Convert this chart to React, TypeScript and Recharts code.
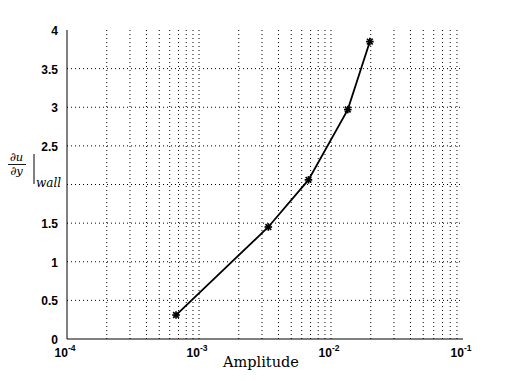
import {
  CartesianGrid,
  Line,
  LineChart,
  ReferenceLine,
  XAxis,
  YAxis,
} from "recharts";

// amplitude (log x) vs wall shear
const amplitude = [6.7e-4, 3.35e-3, 6.75e-3, 1.34e-2, 1.97e-2];
const wallShear = [0.31, 1.45, 2.06, 2.97, 3.85];

const xTicks = [1e-4, 1e-3, 1e-2, 1e-1];
const yTicks = [0, 0.5, 1, 1.5, 2, 2.5, 3, 3.5, 4];
const decades = [1e-4, 1e-3, 1e-2];
const minorSteps = [2, 3, 4, 5, 6, 7, 8, 9];

const data = amplitude.map((a, i) => ({ a, v: wallShear[i] }));
const minorX = decades.flatMap((d) => minorSteps.map((m) => d * m));

const TICK_FONT = "'Liberation Sans', Arial, sans-serif";
const SERIF = "'DejaVu Serif', 'Liberation Serif', serif";
const DOT = "1 3";

function XTick({ x, y, payload }: any) {
  const exp = Math.round(Math.log10(payload.value));
  return (
    <text x={x - 2} y={y + 16} textAnchor="middle" fontFamily={TICK_FONT} fontWeight={700} fontSize={12} fill="#000">
      <tspan>10</tspan>
      <tspan dy={-6} fontSize={8.5}>{exp}</tspan>
    </text>
  );
}

function YTick({ x, y, payload }: any) {
  // the "2" label sits under the ylabel in the original
  if (payload.value === 2) return null;
  return (
    <text x={x - 7} y={y + 5} textAnchor="end" fontFamily={TICK_FONT} fontWeight={700} fontSize={12} fill="#000">
      {payload.value}
    </text>
  );
}

function Star({ cx, cy }: any) {
  const r = 3.8;
  const d = r * 0.75;
  return (
    <g stroke="#000" strokeWidth={1.7}>
      <line x1={cx - r} y1={cy} x2={cx + r} y2={cy} />
      <line x1={cx} y1={cy - r} x2={cx} y2={cy + r} />
      <line x1={cx - d} y1={cy - d} x2={cx + d} y2={cy + d} />
      <line x1={cx - d} y1={cy + d} x2={cx + d} y2={cy - d} />
    </g>
  );
}

export default function App() {
  return (
    <div style={{ position: "fixed", left: 0, top: 0, width: 512, height: 381, background: "#fff" }}>
      <LineChart width={512} height={381} data={data} margin={{ top: 30, right: 49, bottom: 0, left: 0 }}>
        <CartesianGrid
          vertical={false}
          stroke="#000"
          strokeDasharray={DOT}
          horizontalValues={[0.5, 1, 1.5, 2, 2.5, 3, 3.5]}
        />
        {[...minorX, 1e-3, 1e-2].map((v) => (
          <ReferenceLine key={v} x={v} stroke="#000" strokeDasharray={DOT} strokeWidth={1} />
        ))}
        <XAxis
          dataKey="a"
          type="number"
          scale="log"
          domain={[1e-4, 1e-1]}
          ticks={xTicks}
          allowDataOverflow
          height={42}
          tickLine={false}
          tickSize={0}
          axisLine={{ stroke: "#000", strokeWidth: 1 }}
          tick={<XTick />}
        />
        <XAxis
          xAxisId="top"
          orientation="top"
          type="number"
          scale="log"
          domain={[1e-4, 1e-1]}
          height={0}
          tick={false}
          tickLine={false}
          axisLine={{ stroke: "#000", strokeWidth: 1 }}
        />
        <YAxis
          type="number"
          domain={[0, 4]}
          ticks={yTicks}
          width={67}
          tickLine={false}
          tickSize={0}
          axisLine={{ stroke: "#000", strokeWidth: 1 }}
          tick={<YTick />}
        />
        <YAxis
          yAxisId="right"
          orientation="right"
          domain={[0, 4]}
          width={0}
          tick={false}
          tickLine={false}
          axisLine={{ stroke: "#000", strokeWidth: 1 }}
        />
        <Line
          dataKey="v"
          stroke="#000"
          strokeWidth={1.8}
          dot={<Star />}
          activeDot={false}
          isAnimationActive={false}
        />
        <text x={261} y={367} textAnchor="middle" fontFamily={SERIF} fontSize={14.5} fill="#000">
          Amplitude
        </text>
        <g fill="#000" fontFamily={SERIF} fontStyle="italic" fontSize={11.5}>
          <text x={16.5} y={161} textAnchor="middle">∂u</text>
          <line x1={8} y1={164.5} x2={26} y2={164.5} stroke="#000" strokeWidth={0.9} />
          <text x={16.5} y={175} textAnchor="middle">∂y</text>
          <line x1={34} y1={154} x2={34} y2={184} stroke="#000" strokeWidth={1} />
          <text x={36} y={187} fontSize={12}>wall</text>
        </g>
      </LineChart>
    </div>
  );
}
